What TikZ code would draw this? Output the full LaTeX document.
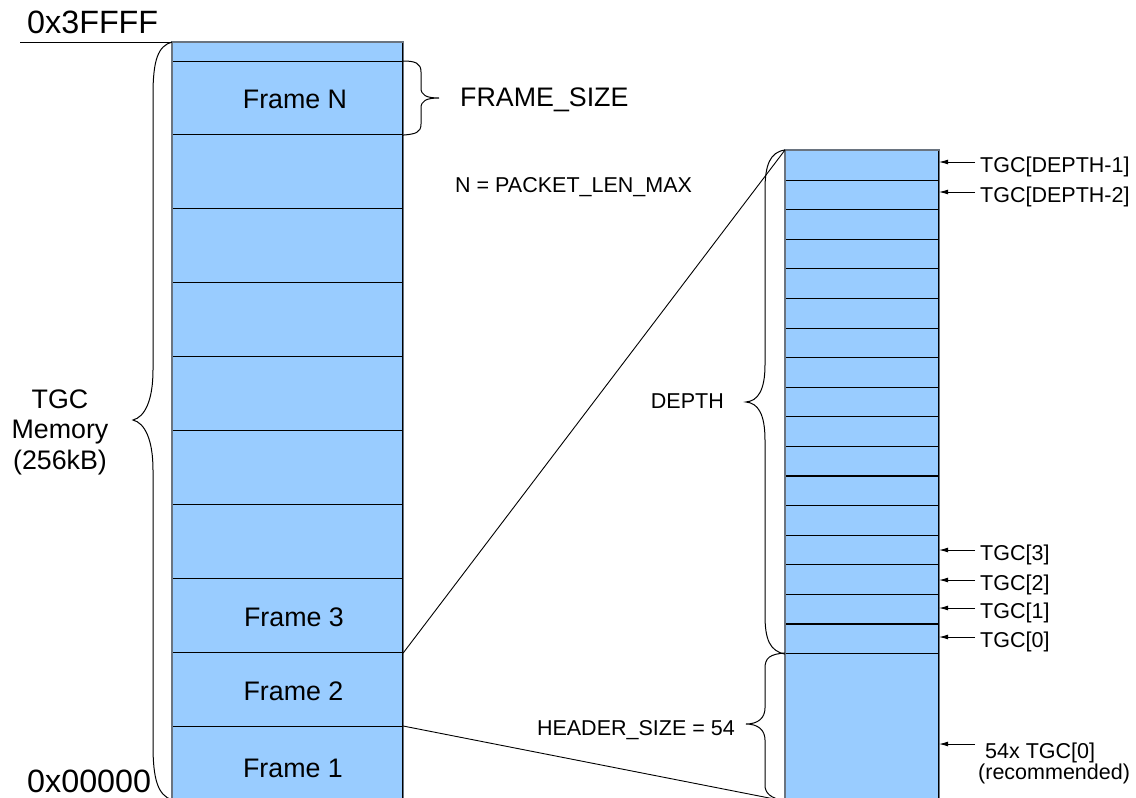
\documentclass[tikz,border=0pt]{standalone}
\usepackage{fontspec}
\setmainfont{Liberation Sans}
\usetikzlibrary{arrows.meta,calc}
\definecolor{cellblue}{HTML}{99CCFF}
\definecolor{edgegray}{HTML}{6A7480}
\begin{document}
\begin{tikzpicture}[x=1pt,y=-1pt,
 cell/.style={draw=black, fill=cellblue, line width=1.1pt, inner sep=0pt, anchor=north west, minimum width=230pt},
 rcell/.style={cell, minimum width=153pt, minimum height=29.588pt},
 edge/.style={draw=edgegray, line width=1.2pt},
 conn/.style={draw=black, line width=0.9pt},
 brace/.style={draw=black, line width=1pt},
 arr/.style={draw=black, line width=0.9pt, -{Latex[length=9pt,width=5pt]}},
 big/.style={font=\fontsize{32.3}{35}\selectfont, inner sep=0pt},
 mid/.style={font=\fontsize{26.8}{30.5}\selectfont, inner sep=0pt},
 small/.style={font=\fontsize{21.5}{19.5}\selectfont, inner sep=0pt},
]
\useasboundingbox (0,0) rectangle (1136,798);
\clip (0,0) rectangle (1136,798);

% left column
\node[cell, minimum height=19pt] (top) at (172,42) {};
\node[cell, minimum height=73pt] (fN) at (172,61) {};
\foreach \k in {1,...,6} \node[cell, minimum height=74pt] (e\k) at (172,{134+74*(\k-1)}) {};
\node[cell, minimum height=74pt] (f3) at (172,578) {};
\node[cell, minimum height=74pt] (f2) at (172,652) {};
\node[cell, minimum height=80pt] (f1) at (172,726) {};
\draw[edge] (top.north west) rectangle (f1.south east);

\node[mid, anchor=base] (tN) at (295,108) {Frame N};
\node[mid, anchor=base] (t3) at (294,626.5) {Frame 3};
\node[mid, anchor=base] (t2) at (293.5,700) {Frame 2};
\node[mid, anchor=base] (t1) at (293,777) {Frame 1};

% addresses
\node[big, anchor=base west] (hi) at (27,33) {0x3FFFF};
\coordinate (hiL) at (20,42);
\draw[conn] (hiL) -- (top.north west);
\node[big, anchor=base west] (lo) at (27,792) {0x00000};
\node[mid, anchor=center, align=center] (mem) at (60,432) {TGC\\Memory\\(256kB)};

% left brace
\draw[brace] (top.north west) .. controls (158,46) and (153,60) .. (153,95) -- (153,370)
  .. controls (153,400) and (145,417) .. (133,420) .. controls (145,423) and (153,440) .. (153,470)
  -- (153,745) .. controls (153,780) and (158,795) .. (172,800);

% frame size brace
\draw[brace] (fN.north east) .. controls (415,61) and (421,63) .. (421,72) -- (421,88)
  .. controls (421,95) and (426,98) .. (439,98) .. controls (426,98) and (421,101) .. (421,108)
  -- (421,124) .. controls (421,133) and (415,134) .. (fN.south east);
\node[mid, anchor=base west] (fs) at (460,106) {FRAME\_SIZE};
\node[small, anchor=base west] (np) at (455,192) {N = PACKET\_LEN\_MAX};

% right column
\foreach \i in {0,...,16} \node[rcell] (r\i) at (785,{653-(\i+1)*29.588}) {};
\node[cell, minimum width=153pt, minimum height=147pt] (hdr) at (785,653) {};
\draw[edge] (r16.north west) rectangle (hdr.south east);

% zoom lines
\draw[conn] (f3.south east) -- (r16.north west);
\draw[conn] (f1.north east) -- (hdr.south west);

% depth brace
\draw[brace] (r16.north west) .. controls (770,152) and (765,165) .. (765,190) -- (765,365)
  .. controls (765,390) and (758,401) .. (746,402) .. controls (758,403) and (765,414) .. (765,440)
  -- (765,615) .. controls (765,640) and (770,651) .. (r0.south west);
\node[small, anchor=base east] (dp) at (724,408) {DEPTH};

% header brace
\draw[brace] (hdr.north west) .. controls (770,654) and (765,658) .. (765,668) -- (765,708)
  .. controls (765,718) and (758,724) .. (746,724) .. controls (758,724) and (765,730) .. (765,740)
  -- (765,785) .. controls (765,793) and (770,798) .. (hdr.south west);
\node[small, anchor=base east] (hs) at (735,735) {HEADER\_SIZE = 54};

% labels with arrows
\newcommand{\tgcarrow}[4]{%
  \node[small, anchor=base west] (#1) at (980,#2) {#3};
  \coordinate (#1a) at ($(#1.base west)+(-5,-10)$);
  \draw[arr] (#1a) -- (#1a -| #4.east);}
\tgcarrow{la}{172}{TGC[DEPTH-1]}{r16}
\tgcarrow{lb}{202}{TGC[DEPTH-2]}{r15}
\tgcarrow{lc}{560}{TGC[3]}{r3}
\tgcarrow{ld}{590}{TGC[2]}{r2}
\tgcarrow{le}{618}{TGC[1]}{r1}
\tgcarrow{lf}{647}{TGC[0]}{r0}

\node[small, anchor=north west, align=left] (rec) at (978,742.5) {\hspace*{7pt}54x TGC[0]\\(recommended)};
\coordinate (reca) at ($(rec.north west)+(-3,1.5)$);
\draw[arr] (reca) -- (reca -| hdr.east);
\end{tikzpicture}
\end{document}
